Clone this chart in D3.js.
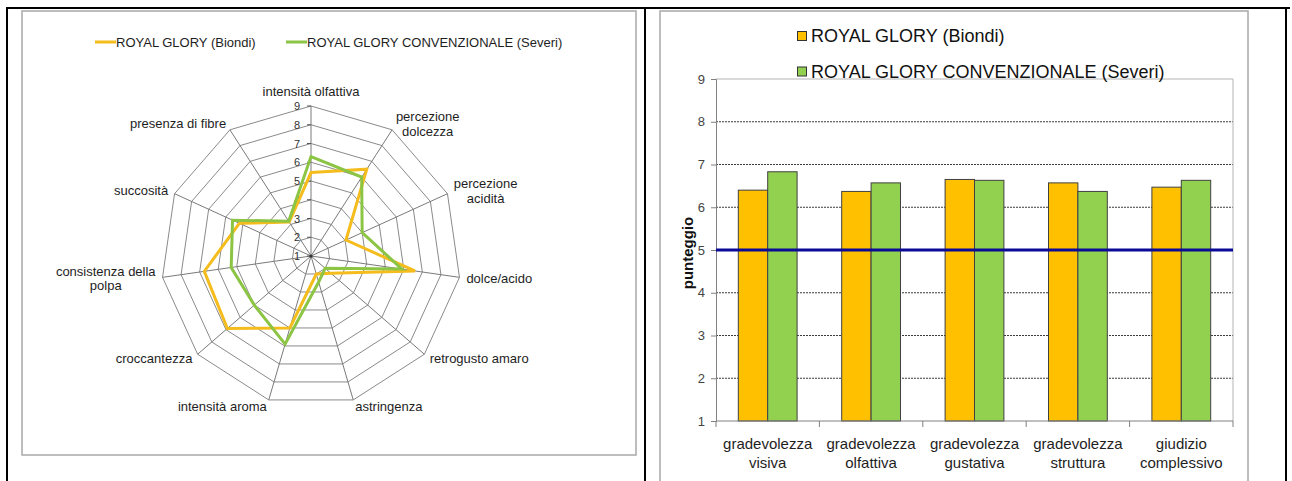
<!DOCTYPE html>
<html>
<head>
<meta charset="utf-8">
<script src="https://cdn.jsdelivr.net/npm/d3@7"></script>
<style>
  html, body { margin: 0; padding: 0; background: #fff; }
  svg { display: block; font-family: "Liberation Sans", Arial, sans-serif; }
</style>
</head>
<body>
<svg id="chart" width="1292" height="481"></svg>
<script>
// ---- data ----
const seriesNames = ["ROYAL GLORY (Biondi)", "ROYAL GLORY CONVENZIONALE (Severi)"];

// sensory profile attributes (clockwise from the top)
const radarAttributes = ["intensità olfattiva", "percezione dolcezza", "percezione acidità", "dolce/acido",
  "retrogusto amaro", "astringenza", "intensità aroma", "croccantezza", "consistenza della polpa",
  "succosità", "presenza di fibre"];
const radarLabelLines = [["intensità olfattiva"], ["percezione", "dolcezza"], ["percezione", "acidità"], ["dolce/acido"],
  ["retrogusto amaro"], ["astringenza"], ["intensità aroma"], ["croccantezza"], ["consistenza della", "polpa"],
  ["succosità"], ["presenza di fibre"]];
const radarBiondi = [5.45, 6.5, 3.05, 6.6, 2.4, 2.0, 5.0, 6.9, 6.75, 5.2, 3.15];
const radarSeveri = [6.3, 6.0, 4.0, 5.9, 2.0, 2.45, 5.9, 5.0, 5.3, 5.6, 3.2];
const radarTicks = [1, 2, 3, 4, 5, 6, 7, 8, 9];

// liking scores
const barCategories = ["gradevolezza visiva", "gradevolezza olfattiva", "gradevolezza gustativa",
  "gradevolezza struttura", "giudizio complessivo"];
const barLabelLines = [["gradevolezza", "visiva"], ["gradevolezza", "olfattiva"], ["gradevolezza", "gustativa"],
  ["gradevolezza", "struttura"], ["giudizio", "complessivo"]];
const barBiondi = [6.40, 6.37, 6.65, 6.57, 6.47];
const barSeveri = [6.83, 6.57, 6.63, 6.37, 6.63];
const barTicks = [1, 2, 3, 4, 5, 6, 7, 8, 9];
const thresholdValue = 5;
const yAxisTitle = "punteggio";

// ---- styles ----
const lineColors = ["#F4BC1C", "#8CC444"];
const barColors = ["#FFC000", "#92D050"];
const textColor = "#1e1e1e";

const svg = d3.select("#chart");

// table rules around the two charts
const rules = svg.append("g").attr("stroke", "#000").attr("stroke-width", 2);
rules.append("line").attr("x1", 6).attr("x2", 1290).attr("y1", 8).attr("y2", 8);
[7, 645, 1286].forEach(x => rules.append("line").attr("x1", x).attr("x2", x).attr("y1", 7).attr("y2", 481));

// chart frames
svg.append("rect").attr("x", 22).attr("y", 11).attr("width", 614).attr("height", 444)
  .attr("fill", "none").attr("stroke", "#a8a8a8").attr("stroke-width", 1.5);
svg.append("rect").attr("x", 660).attr("y", 11).attr("width", 588).attr("height", 490)
  .attr("fill", "none").attr("stroke", "#a8a8a8").attr("stroke-width", 1.5);

// ================= radar chart =================
const radar = svg.append("g").attr("transform", "translate(311,256)");
const rScale = d3.scaleLinear().domain([1, 9]).range([0, 150]);
const nAxes = radarAttributes.length;
const angle = d3.scaleLinear().domain([0, nAxes]).range([0, 2 * Math.PI]);

const ringLine = d3.lineRadial()
  .angle((d, i) => angle(i))
  .radius(d => rScale(d))
  .curve(d3.curveLinearClosed);

// rings
radar.append("g").selectAll("path")
  .data(radarTicks.slice(1))
  .join("path")
  .attr("d", t => ringLine(radarAttributes.map(() => t)))
  .attr("fill", "none")
  .attr("stroke", "#8a8a8a")
  .attr("stroke-width", 1);

// spokes
radar.append("g").selectAll("line")
  .data(radarAttributes)
  .join("line")
  .attr("x1", 0).attr("y1", 0)
  .attr("x2", (d, i) => d3.pointRadial(angle(i), rScale(9))[0])
  .attr("y2", (d, i) => d3.pointRadial(angle(i), rScale(9))[1])
  .attr("stroke", "#7a7a7a")
  .attr("stroke-width", 1);

// value axis ticks + labels
const vAxis = radar.append("g");
vAxis.selectAll("line")
  .data(radarTicks)
  .join("line")
  .attr("x1", -4).attr("x2", 0)
  .attr("y1", t => -rScale(t)).attr("y2", t => -rScale(t))
  .attr("stroke", "#555");
vAxis.selectAll("text")
  .data(radarTicks)
  .join("text")
  .attr("x", -14)
  .attr("y", t => -rScale(t))
  .attr("text-anchor", "middle")
  .attr("dominant-baseline", "central")
  .attr("font-size", 11)
  .attr("fill", "#333")
  .text(t => t);

radar.append("circle").attr("r", 1.6).attr("fill", "#333");

// series
[radarBiondi, radarSeveri].forEach((vals, s) => {
  radar.append("path")
    .attr("d", ringLine(vals))
    .attr("fill", "none")
    .attr("stroke", lineColors[s])
    .attr("stroke-width", 3)
    .attr("stroke-linejoin", "miter");
});

// attribute labels
radarLabelLines.forEach((lines, i) => {
  const a = angle(i);
  const [px, py] = d3.pointRadial(a, rScale(9) + 7);
  const sn = Math.sin(a);
  const g = radar.append("g");
  const texts = lines.map(l => g.append("text")
    .attr("font-size", 13)
    .attr("fill", textColor)
    .attr("text-anchor", "middle")
    .attr("dominant-baseline", "central")
    .text(l));
  const w = d3.max(texts, t => t.node().getComputedTextLength());
  const m = lines.length;
  let cx, cy;
  if (Math.abs(sn) < 0.1) { cx = px; cy = py - 8; }
  else { cx = sn > 0 ? px + w / 2 : px - w / 2; cy = py; }
  texts.forEach((t, k) => t.attr("x", cx).attr("y", cy + (k - (m - 1) / 2) * 14.5));
});

// radar legend
const rl = svg.append("g");
const rlItems = [{x: 95, w: 21}, {x: 286, w: 21}];
rlItems.forEach((it, s) => {
  rl.append("line").attr("x1", it.x).attr("x2", it.x + it.w).attr("y1", 42).attr("y2", 42)
    .attr("stroke", lineColors[s]).attr("stroke-width", 3);
  rl.append("text").attr("x", it.x + it.w).attr("y", 42)
    .attr("dominant-baseline", "central").attr("font-size", 13).attr("fill", textColor)
    .text(seriesNames[s]);
});

// ================= bar chart =================
const plot = {left: 716, right: 1233, top: 79, bottom: 421};
const x0 = d3.scaleBand().domain(barCategories).range([plot.left, plot.right]);
const bw = x0.bandwidth();
const x1 = d3.scaleBand().domain([0, 1]).range([bw * 0.2157, bw * 0.7843]);
const y = d3.scaleLinear().domain([1, 9]).range([plot.bottom, plot.top]);

const bars = svg.append("g");

// gridlines
bars.append("g").selectAll("line")
  .data(barTicks.filter(t => t > 1 && t < 9))
  .join("line")
  .attr("x1", plot.left).attr("x2", plot.right)
  .attr("y1", d => y(d)).attr("y2", d => y(d))
  .attr("stroke", "#3a3a3a")
  .attr("stroke-width", 1)
  .attr("stroke-dasharray", "2,1");

// plot border (top / right)
bars.append("path")
  .attr("d", `M${plot.left},${y(9)}H${plot.right}V${plot.bottom}`)
  .attr("fill", "none").attr("stroke", "#b4b4b4").attr("stroke-width", 1);

// bars
const barData = barCategories.flatMap((c, i) => [
  {cat: c, s: 0, v: barBiondi[i]},
  {cat: c, s: 1, v: barSeveri[i]}
]);
bars.append("g").selectAll("rect")
  .data(barData)
  .join("rect")
  .attr("x", d => x0(d.cat) + x1(d.s))
  .attr("width", x1.bandwidth())
  .attr("y", d => y(d.v))
  .attr("height", d => y(1) - y(d.v))
  .attr("fill", d => barColors[d.s])
  .attr("stroke", "#404040")
  .attr("stroke-width", 1);

// y axis
const yAxis = bars.append("g")
  .attr("transform", `translate(${plot.left},0)`)
  .call(d3.axisLeft(y).tickValues(barTicks).tickSize(5).tickPadding(6).tickFormat(d3.format("d")));
yAxis.select(".domain").attr("stroke", "#808080");
yAxis.selectAll(".tick line").attr("stroke", "#808080");
yAxis.selectAll(".tick text").attr("font-size", 13).attr("fill", "#444")
  .attr("font-family", "Liberation Sans, Arial, sans-serif");

// x axis
const xAxis = bars.append("g");
xAxis.append("line").attr("x1", plot.left).attr("x2", plot.right)
  .attr("y1", plot.bottom).attr("y2", plot.bottom).attr("stroke", "#808080");
xAxis.selectAll(".xt")
  .data(barCategories.map(c => x0(c)).concat([plot.right]))
  .join("line")
  .attr("class", "xt")
  .attr("x1", d => d).attr("x2", d => d)
  .attr("y1", plot.bottom).attr("y2", plot.bottom + 6)
  .attr("stroke", "#808080");
barCategories.forEach((c, i) => {
  barLabelLines[i].forEach((l, k) => {
    xAxis.append("text")
      .attr("x", x0(c) + bw / 2)
      .attr("y", 443.5 + k * 18.5)
      .attr("text-anchor", "middle")
      .attr("dominant-baseline", "central")
      .attr("font-size", 15)
      .attr("fill", textColor)
      .text(l);
  });
});

// threshold line
bars.append("line")
  .attr("x1", plot.left).attr("x2", plot.right)
  .attr("y1", y(thresholdValue)).attr("y2", y(thresholdValue))
  .attr("stroke", "#0A0A96").attr("stroke-width", 3);

// y title
svg.append("text")
  .attr("transform", "translate(687,253) rotate(-90)")
  .attr("text-anchor", "middle")
  .attr("dominant-baseline", "central")
  .attr("font-size", 15)
  .attr("font-weight", "bold")
  .attr("fill", "#111")
  .text(yAxisTitle);

// bar legend
const bl = svg.append("g");
[36, 71.5].forEach((ly, s) => {
  bl.append("rect").attr("x", 797.5).attr("y", ly - 4.5).attr("width", 9).attr("height", 9)
    .attr("fill", barColors[s]).attr("stroke", "#333").attr("stroke-width", 1);
  bl.append("text").attr("x", 811).attr("y", ly)
    .attr("dominant-baseline", "central").attr("font-size", 18).attr("fill", "#111")
    .text(seriesNames[s]);
});
</script>
</body>
</html>
